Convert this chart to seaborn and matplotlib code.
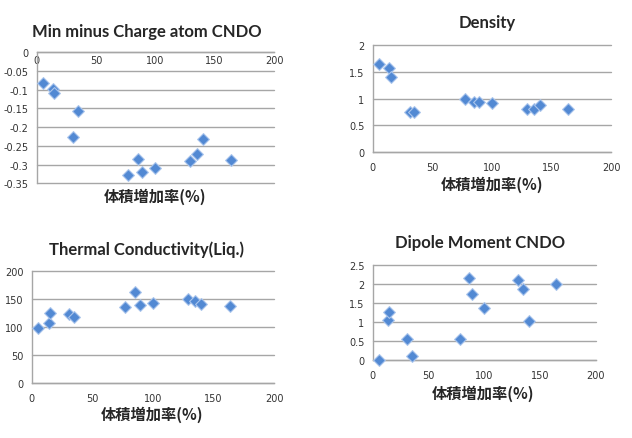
import matplotlib
matplotlib.use("Agg")
import matplotlib.pyplot as plt
import seaborn as sns
import pandas as pd

sns.set_style("white")
plt.rcParams['font.family'] = ['Lato', 'Noto Sans CJK JP', 'DejaVu Sans']

# ---- data ----
x_rate = [5, 14, 15, 31, 35, 77, 85, 89, 100, 129, 135, 140, 164]
min_charge = [-0.083, -0.099, -0.110, -0.225, -0.156, -0.329, -0.284, -0.321, -0.308, -0.290, -0.271, -0.231, -0.288]
density = [1.64, 1.58, 1.40, 0.745, 0.745, 0.99, 0.94, 0.94, 0.92, 0.81, 0.81, 0.875, 0.81]
thermal = [98, 108, 126, 123, 118, 136, 163, 139, 143, 151, 146, 141, 137]
x_dipole = [6, 14, 15, 31, 35, 78, 86, 89, 100, 130, 135, 140, 164]
dipole = [0.0, 1.06, 1.27, 0.555, 0.11, 0.555, 2.17, 1.75, 1.36, 2.12, 1.88, 1.04, 2.0]

titles = ["Min minus Charge atom CNDO", "Density", "Thermal Conductivity(Liq.)", "Dipole Moment CNDO"]
xlabel = "体積増加率(%)"
x_ticks = [0, 50, 100, 150, 200]
x_ticklabels = ["0", "50", "100", "150", "200"]
y1_ticks = [0, -0.05, -0.1, -0.15, -0.2, -0.25, -0.3, -0.35]
y1_labels = ["0", "-0.05", "-0.1", "-0.15", "-0.2", "-0.25", "-0.3", "-0.35"]
y2_ticks = [0, 0.5, 1, 1.5, 2]
y2_labels = ["0", "0.5", "1", "1.5", "2"]
y3_ticks = [0, 50, 100, 150, 200]
y3_labels = ["0", "50", "100", "150", "200"]
y4_ticks = [0, 0.5, 1, 1.5, 2, 2.5]
y4_labels = ["0", "0.5", "1", "1.5", "2", "2.5"]

W, H = 632, 439
fig = plt.figure(figsize=(W / 100, H / 100), dpi=100)

def rect(x0, x1, ytop, ybot):
    return [x0 / W, 1 - ybot / H, (x1 - x0) / W, (ybot - ytop) / H]

panels = [
    dict(rect=rect(36.7, 274, 53.3, 184.3), x=x_rate, y=min_charge, yt=y1_ticks, yl=y1_labels,
         ylim=(-0.35, 0), title_xy=(146.7, 31.7), xl_xy=(155, 197), top=True),
    dict(rect=rect(372.7, 611.3, 46, 153.3), x=x_rate, y=density, yt=y2_ticks, yl=y2_labels,
         ylim=(0, 2), title_xy=(486.7, 22.7), xl_xy=(491.7, 185), top=False),
    dict(rect=rect(31.7, 274, 272.3, 384), x=x_rate, y=thermal, yt=y3_ticks, yl=y3_labels,
         ylim=(0, 200), title_xy=(146.7, 249.3), xl_xy=(151.7, 415), top=False),
    dict(rect=rect(372.7, 595.7, 266.3, 361), x=x_dipole, y=dipole, yt=y4_ticks, yl=y4_labels,
         ylim=(0, 2.5), title_xy=(480, 242.7), xl_xy=(483.3, 394), top=False),
]

gray = "#a6a6a6"
for p, title in zip(panels, titles):
    ax = fig.add_axes(p["rect"])
    df = pd.DataFrame({"x": p["x"], "y": p["y"]})
    sns.scatterplot(data=df, x="x", y="y", ax=ax, marker="D", s=36,
                    color="#5289d3", edgecolor="#aac5ec", linewidth=0.8, zorder=3, clip_on=False)
    ax.set_xlim(0, 200)
    ax.set_ylim(*p["ylim"])
    ax.set_xticks(x_ticks)
    ax.set_xticklabels(x_ticklabels)
    ax.set_yticks(p["yt"])
    ax.set_yticklabels(p["yl"])
    ax.set_xlabel("")
    ax.set_ylabel("")
    for t in p["yt"]:
        ax.axhline(t, color=gray, lw=1.0, zorder=1, clip_on=False)
    for s in ["top", "right"]:
        ax.spines[s].set_visible(False)
    ax.spines["left"].set_color(gray)
    ax.spines["bottom"].set_color(gray)
    ax.spines["left"].set_linewidth(1.0)
    ax.spines["bottom"].set_linewidth(1.0)
    if p["top"]:
        ax.spines["bottom"].set_position(("data", 0))
        ax.tick_params(axis="x", direction="in", length=3, pad=2)
    else:
        ax.tick_params(axis="x", direction="out", length=3, pad=4)
    ax.tick_params(axis="both", colors=gray, labelcolor="#333333", labelsize=7, width=0.8)
    ax.tick_params(axis="y", direction="out", length=3, pad=3)
    for lab in ax.get_xticklabels() + ax.get_yticklabels():
        lab.set_family(["DejaVu Sans"])
    ax.patch.set_alpha(0)
    tx, ty = p["title_xy"]
    fig.text(tx / W, 1 - ty / H, title, ha="center", va="center",
             fontsize=12, fontweight="bold", family=["Lato", "DejaVu Sans"])
    lx, ly = p["xl_xy"]
    fig.text(lx / W, 1 - ly / H, xlabel, ha="center", va="center",
             fontsize=11, fontweight="bold", family=["Noto Sans CJK JP", "DejaVu Sans"])

fig.savefig("out.png", dpi=100)
